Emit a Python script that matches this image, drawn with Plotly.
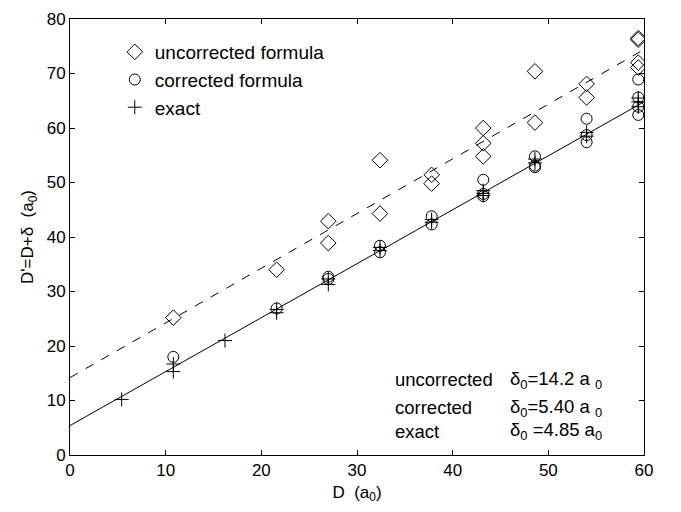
import plotly.graph_objects as go

# ---------------- data ----------------
unc_x = [10.8, 21.6, 27.0, 27.0, 32.4, 32.4, 37.8, 37.8, 43.2, 43.2, 43.2,
         48.6, 48.6, 54.0, 54.0, 59.4, 59.4, 59.4, 59.4]
unc_y = [25.2, 34.0, 42.9, 38.9, 54.1, 44.3, 51.4, 49.8, 60.0, 57.2, 54.8,
         70.4, 61.0, 68.1, 65.6, 76.5, 76.2, 72.0, 71.1]

cor_x = [10.8, 21.6, 27.0, 27.0, 32.4, 32.4, 37.8, 37.8, 43.2, 43.2, 43.2,
         48.6, 48.6, 48.6, 54.0, 54.0, 54.0, 59.4, 59.4, 59.4, 59.4]
cor_y = [18.0, 26.9, 32.7, 32.3, 38.4, 37.2, 43.8, 42.3, 50.5, 47.9, 47.5,
         54.8, 53.1, 52.8, 61.7, 58.7, 57.4, 68.9, 65.6, 63.9, 62.4]

ex_x = [5.4, 10.8, 10.8, 16.2, 21.6, 21.6, 27.0, 27.0, 32.4, 32.4, 37.8, 37.8,
        43.2, 43.2, 43.2, 48.6, 48.6, 54.0, 54.0, 59.4, 59.4, 59.4]
ex_y = [10.2, 16.7, 15.3, 21.0, 26.7, 26.1, 32.3, 31.3, 38.1, 37.5, 43.2, 42.7,
        48.5, 48.0, 47.6, 54.3, 53.6, 59.2, 58.5, 65.5, 64.8, 63.9]

fit_x = [0, 60]
unc_fit = [14.2, 74.4]
cor_fit = [5.4, 64.8]

legend_names = ["uncorrected formula", "corrected formula", "exact"]
summary_rows = ["uncorrected", "corrected", "exact"]
summary_vals = ["δ<sub>0</sub>=14.2 a <sub>0</sub>",
                "δ<sub>0</sub>=5.40 a <sub>0</sub>",
                "δ<sub>0</sub> =4.85 a<sub>0</sub>"]
summary_y = [13.8, 8.7, 4.4]

x_ticks = [0, 10, 20, 30, 40, 50, 60]
y_ticks = [0, 10, 20, 30, 40, 50, 60, 70, 80]

FONT = "Liberation Sans, Arial, Helvetica, sans-serif"

fig = go.Figure()

fig.add_trace(go.Scatter(x=fit_x, y=unc_fit, mode="lines",
                         line=dict(color="black", width=1, dash="dash"),
                         showlegend=False, hoverinfo="skip"))
fig.add_trace(go.Scatter(x=fit_x, y=cor_fit, mode="lines",
                         line=dict(color="black", width=1),
                         showlegend=False, hoverinfo="skip"))

fig.add_trace(go.Scatter(x=unc_x, y=unc_y, mode="markers", name=legend_names[0],
                         marker=dict(symbol="diamond-open", size=12, color="black",
                                     line=dict(width=1, color="black"))))
fig.add_trace(go.Scatter(x=cor_x, y=cor_y, mode="markers", name=legend_names[1],
                         marker=dict(symbol="circle-open", size=11, color="black",
                                     line=dict(width=1, color="black"))))
fig.add_trace(go.Scatter(x=ex_x, y=ex_y, mode="markers", name=legend_names[2],
                         marker=dict(symbol="cross-thin-open", size=10, color="black",
                                     line=dict(width=1, color="black"))))

for row, val, yy in zip(summary_rows, summary_vals, summary_y):
    fig.add_annotation(x=33.8, y=yy, xref="x", yref="y", text=row, showarrow=False,
                       xanchor="left", yanchor="middle",
                       font=dict(family=FONT, size=18.5, color="black"))
    fig.add_annotation(x=45.8, y=yy, xref="x", yref="y", text=val, showarrow=False,
                       xanchor="left", yanchor="middle",
                       font=dict(family=FONT, size=18.5, color="black"))

axis_common = dict(showline=True, linecolor="black", linewidth=1, mirror="ticks",
                   ticks="inside", ticklen=5, tickcolor="black", showgrid=False,
                   zeroline=False, tickfont=dict(family=FONT, size=17, color="black"))

fig.update_layout(
    width=681, height=512,
    margin=dict(l=70, r=37, t=10, b=57),
    paper_bgcolor="white", plot_bgcolor="white",
    font=dict(family=FONT, size=17, color="black"),
    xaxis=dict(range=[0, 60], tickvals=x_ticks,
               title=dict(text="D  (a<sub>0</sub>)", standoff=6,
                          font=dict(family=FONT, size=17, color="black")),
               **axis_common),
    yaxis=dict(range=[0, 80], tickvals=y_ticks,
               title=dict(text="D'=D+δ  (a<sub>0</sub>)", standoff=8,
                          font=dict(family=FONT, size=17, color="black")),
               **axis_common),
    legend=dict(x=0.078, y=0.968, xanchor="left", yanchor="top",
                bgcolor="rgba(0,0,0,0)", borderwidth=0,
                font=dict(family=FONT, size=19, color="black"),
                tracegroupgap=0),
    showlegend=True,
)

fig.write_html("out.html")
